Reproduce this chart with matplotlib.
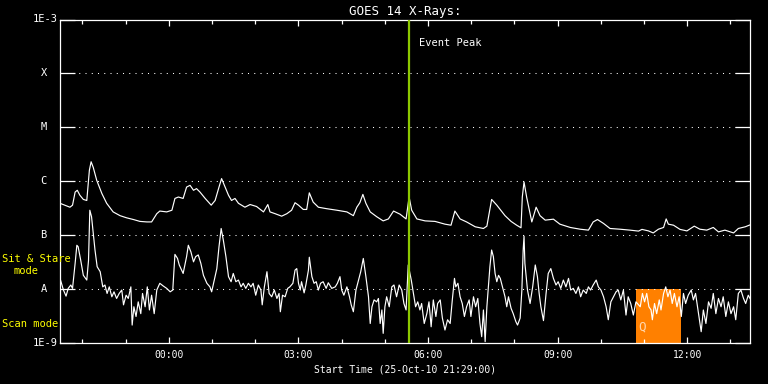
import numpy as np
import pandas as pd
import matplotlib
matplotlib.use("Agg")
import matplotlib.pyplot as plt
import matplotlib.dates as mdates

plt.rcParams['font.family'] = ['DejaVu Sans Mono']

# start of the plot window
start_time = pd.Timestamp('2010-10-25 21:29:00')
span_hours = 15.97

# long channel (1-8 A), hours after start / flux W m^-2
long_h = [0.00, 0.23, 0.29, 0.35, 0.40, 0.46, 0.54, 0.62, 0.68, 0.72,
          0.77, 0.85, 0.97, 1.08, 1.23, 1.39, 1.54, 1.70, 1.85, 2.01,
          2.12, 2.24, 2.31, 2.47, 2.59, 2.66, 2.74, 2.85, 2.93, 3.01,
          3.09, 3.16, 3.24, 3.36, 3.50, 3.59, 3.68, 3.74, 3.82, 3.90,
          3.97, 4.05, 4.13, 4.28, 4.40, 4.55, 4.71, 4.81, 4.86, 4.98,
          5.13, 5.25, 5.36, 5.44, 5.52, 5.63, 5.71, 5.77, 5.86, 5.98,
          6.17, 6.41, 6.64, 6.79, 6.87, 6.94, 7.01, 7.08, 7.18, 7.33,
          7.48, 7.60, 7.72, 7.87, 8.01, 8.08, 8.14, 8.26, 8.45, 8.68,
          8.91, 9.05, 9.14, 9.26, 9.41, 9.61, 9.80, 9.88, 9.99, 10.11,
          10.30, 10.44, 10.57, 10.67, 10.70, 10.74, 10.80, 10.92, 11.02, 11.11,
          11.23, 11.42, 11.57, 11.81, 12.04, 12.23, 12.34, 12.44, 12.58, 12.73,
          12.96, 13.19, 13.39, 13.47, 13.62, 13.73, 13.85, 13.97, 14.03, 14.08,
          14.20, 14.35, 14.51, 14.68, 14.81, 14.97, 15.12, 15.24, 15.39, 15.59,
          15.70, 15.86, 15.97]
long_f = [3.9e-7, 3.3e-7, 3.6e-7, 6.3e-7, 6.8e-7, 5.5e-7, 4.6e-7, 4.4e-7, 1.6e-6, 2.3e-6,
          1.8e-6, 1.04e-6, 5.9e-7, 3.9e-7, 2.7e-7, 2.3e-7, 2.1e-7, 1.95e-7, 1.8e-7, 1.76e-7,
          1.76e-7, 2.5e-7, 2.8e-7, 2.7e-7, 2.9e-7, 4.8e-7, 5.1e-7, 4.8e-7, 7.8e-7, 8.4e-7,
          6.8e-7, 7.3e-7, 6.3e-7, 4.8e-7, 3.6e-7, 4.4e-7, 7.8e-7, 1.12e-6, 7.8e-7, 5.5e-7,
          4.4e-7, 4.8e-7, 3.9e-7, 3.3e-7, 3.7e-7, 3.4e-7, 2.7e-7, 3.7e-7, 2.7e-7, 2.5e-7,
          2.25e-7, 2.5e-7, 2.9e-7, 4.0e-7, 3.6e-7, 3.0e-7, 3.0e-7, 6.1e-7, 4.1e-7, 3.3e-7,
          3.1e-7, 2.9e-7, 2.7e-7, 2.3e-7, 3.3e-7, 4.0e-7, 5.7e-7, 3.9e-7, 2.7e-7, 2.2e-7,
          1.84e-7, 2.0e-7, 2.8e-7, 2.45e-7, 2.0e-7, 5.1e-7, 2.9e-7, 2.0e-7, 1.84e-7, 1.8e-7,
          1.6e-7, 1.53e-7, 2.8e-7, 2.0e-7, 1.76e-7, 1.43e-7, 1.33e-7, 1.47e-7, 4.6e-7, 3.6e-7,
          2.3e-7, 1.8e-7, 1.53e-7, 1.37e-7, 5.1e-7, 9.7e-7, 5.1e-7, 1.76e-7, 3.3e-7, 2.3e-7,
          1.9e-7, 1.98e-7, 1.6e-7, 1.39e-7, 1.29e-7, 1.24e-7, 1.76e-7, 1.95e-7, 1.65e-7, 1.33e-7,
          1.29e-7, 1.24e-7, 1.19e-7, 1.28e-7, 1.2e-7, 1.1e-7, 1.29e-7, 1.39e-7, 2.0e-7, 1.6e-7,
          1.53e-7, 1.28e-7, 1.2e-7, 1.47e-7, 1.29e-7, 1.24e-7, 1.39e-7, 1.15e-7, 1.24e-7, 1.1e-7,
          1.33e-7, 1.43e-7, 1.55e-7]

# short channel (0.5-4 A)
short_h = [0.00, 0.08, 0.14, 0.19, 0.25, 0.29, 0.35, 0.39, 0.42, 0.48,
           0.54, 0.62, 0.66, 0.69, 0.73, 0.77, 0.81, 0.86, 0.93, 0.99,
           1.04, 1.09, 1.14, 1.20, 1.25, 1.31, 1.37, 1.43, 1.47, 1.53,
           1.58, 1.64, 1.67, 1.71, 1.76, 1.81, 1.87, 1.91, 1.97, 2.02,
           2.07, 2.12, 2.18, 2.24, 2.31, 2.39, 2.47, 2.55, 2.61, 2.66,
           2.72, 2.76, 2.85, 2.93, 2.97, 3.03, 3.09, 3.14, 3.20, 3.26,
           3.32, 3.40, 3.47, 3.51, 3.57, 3.63, 3.68, 3.73, 3.78, 3.84,
           3.90, 3.96, 4.01, 4.07, 4.13, 4.19, 4.24, 4.30, 4.36, 4.42,
           4.47, 4.53, 4.59, 4.65, 4.68, 4.73, 4.79, 4.84, 4.90, 4.96,
           5.02, 5.07, 5.10, 5.15, 5.21, 5.27, 5.32, 5.39, 5.44, 5.48,
           5.52, 5.56, 5.59, 5.65, 5.69, 5.75, 5.77, 5.83, 5.88, 5.93,
           5.98, 6.03, 6.09, 6.16, 6.21, 6.29, 6.37, 6.42, 6.48, 6.52,
           6.57, 6.64, 6.70, 6.74, 6.79, 6.85, 6.91, 6.96, 7.02, 7.08,
           7.14, 7.18, 7.22, 7.27, 7.33, 7.37, 7.41, 7.45, 7.48, 7.52,
           7.56, 7.62, 7.68, 7.73, 7.79, 7.85, 7.91, 7.96, 8.01, 8.06,
           8.13, 8.18, 8.23, 8.28, 8.33, 8.37, 8.43, 8.49, 8.54, 8.59,
           8.64, 8.70, 8.74, 8.80, 8.85, 8.91, 8.97, 9.03, 9.08, 9.13,
           9.16, 9.21, 9.26, 9.31, 9.36, 9.41, 9.47, 9.51, 9.57, 9.62,
           9.67, 9.72, 9.76, 9.80, 9.84, 9.88, 9.91, 9.95, 9.99, 10.03,
           10.07, 10.11, 10.15, 10.19, 10.22, 10.26, 10.30, 10.34, 10.38, 10.44,
           10.49, 10.55, 10.59, 10.65, 10.69, 10.72, 10.74, 10.76, 10.82, 10.88,
           10.94, 11.00, 11.05, 11.09, 11.13, 11.19, 11.25, 11.30, 11.36, 11.42,
           11.48, 11.53, 11.59, 11.65, 11.71, 11.77, 11.82, 11.88, 11.94, 12.00,
           12.05, 12.11, 12.18, 12.23, 12.28, 12.34, 12.41, 12.46, 12.52, 12.58,
           12.64, 12.69, 12.75, 12.81, 12.87, 12.92, 12.98, 13.04, 13.10, 13.15,
           13.21, 13.27, 13.33, 13.39, 13.43, 13.48, 13.53, 13.58, 13.63, 13.68,
           13.71, 13.76, 13.81, 13.87, 13.91, 13.97, 14.02, 14.07, 14.12, 14.17,
           14.22, 14.28, 14.33, 14.38, 14.43, 14.48, 14.54, 14.61, 14.66, 14.71,
           14.78, 14.84, 14.89, 14.95, 15.01, 15.07, 15.12, 15.18, 15.24, 15.30,
           15.35, 15.41, 15.47, 15.53, 15.59, 15.64, 15.70, 15.76, 15.82, 15.87,
           15.93, 15.97]
short_f = [1.58e-8, 9.6e-9, 7.4e-9, 1.03e-8, 1.19e-8, 1.03e-8, 3.0e-8, 6.5e-8, 6.1e-8, 3.4e-8,
           1.8e-8, 1.47e-8, 3.4e-8, 2.9e-7, 2.2e-7, 1.07e-7, 5.3e-8, 2.6e-8, 2.1e-8, 1.1e-8,
           1.19e-8, 8.3e-9, 1.1e-8, 7.2e-9, 8.9e-9, 6.7e-9, 8.3e-9, 9.6e-9, 5.1e-9, 7.7e-9,
           6.7e-9, 1.1e-8, 2.15e-9, 4.7e-9, 3.1e-9, 5.8e-9, 3.5e-9, 8.3e-9, 4.7e-9, 1.1e-8,
           4.1e-9, 7.7e-9, 3.5e-9, 9.6e-9, 1.28e-8, 1.14e-8, 1.03e-8, 8.9e-9, 9.6e-9, 4.4e-8,
           3.7e-8, 2.8e-8, 1.95e-8, 4.0e-8, 6.5e-8, 4.9e-8, 3.2e-8, 4.0e-8, 4.3e-8, 3.0e-8,
           1.8e-8, 1.28e-8, 1.1e-8, 8.9e-9, 1.47e-8, 2.4e-8, 6.1e-8, 1.33e-7, 8.1e-8, 4.0e-8,
           1.7e-8, 1.37e-8, 1.95e-8, 1.37e-8, 1.47e-8, 1.1e-8, 1.28e-8, 1.03e-8, 1.28e-8, 1.1e-8,
           1.28e-8, 7.7e-9, 1.19e-8, 9.6e-9, 5.1e-9, 1.1e-8, 2.1e-8, 8.3e-9, 7.2e-9, 9.6e-9,
           6.7e-9, 8.3e-9, 3.8e-9, 7.7e-9, 7.2e-9, 1.03e-8, 1.1e-8, 1.28e-8, 2.25e-8, 2.4e-8,
           1.28e-8, 9.6e-9, 1.37e-8, 8.5e-9, 1.19e-8, 2.25e-8, 3.9e-8, 1.7e-8, 1.28e-8, 1.37e-8,
           9.6e-9, 1.28e-8, 1.37e-8, 1.03e-8, 1.31e-8, 1.03e-8, 1.1e-8, 1.28e-8, 1.7e-8, 9.6e-9,
           7.7e-9, 1.1e-8, 7.2e-9, 5.1e-9, 3.8e-9, 9.6e-9, 1.47e-8, 2.1e-8, 3.7e-8, 1.7e-8,
           7.2e-9, 2.3e-9, 4.7e-9, 6.3e-9, 5.8e-9, 6.7e-9, 2.3e-9, 4.1e-9, 1.51e-9, 4.7e-9,
           7.2e-9, 4.7e-9, 1.1e-8, 1.19e-8, 7.2e-9, 1.19e-8, 9.6e-9, 5.4e-9, 4.1e-9, 2.8e-8,
           1.47e-8, 8.3e-9, 4.7e-9, 5.8e-9, 4.1e-9, 5.4e-9, 2.3e-9, 3.5e-9, 5.8e-9, 2.0e-9,
           6.3e-9, 3.1e-9, 5.4e-9, 6.3e-9, 2.9e-9, 1.74e-9, 2.7e-9, 2.3e-9, 6.3e-9, 1.58e-8,
           1.1e-8, 1.28e-8, 7.2e-9, 5.4e-9, 3.1e-9, 4.7e-9, 6.3e-9, 3.1e-9, 7.2e-9, 4.7e-9,
           6.7e-9, 2.3e-9, 1.31e-9, 4.1e-9, 1.06e-9, 4.7e-9, 9.6e-9, 2.6e-8, 5.3e-8, 4.0e-8,
           1.95e-8, 1.37e-8, 1.8e-8, 1.58e-8, 1.28e-8, 9.6e-9, 7.2e-9, 4.7e-9, 7.2e-9, 4.4e-9,
           3.5e-9, 2.5e-9, 2.15e-9, 2.9e-9, 9.6e-9, 5.3e-8, 9.6e-8, 3.0e-8, 9.6e-9, 5.4e-9,
           1.1e-8, 2.8e-8, 1.7e-8, 8.3e-9, 4.7e-9, 2.6e-9, 8.3e-9, 1.95e-8, 2.4e-8, 1.58e-8,
           1.19e-8, 1.37e-8, 1.03e-8, 1.47e-8, 1.1e-8, 1.58e-8, 9.6e-9, 1.03e-8, 8.3e-9, 1.1e-8,
           7.2e-9, 9.6e-9, 8.3e-9, 1.1e-8, 9.6e-9, 1.19e-8, 1.47e-8, 1.1e-8, 9.6e-9, 7.2e-9,
           4.7e-9, 2.7e-9, 5.8e-9, 7.2e-9, 8.9e-9, 9.6e-9, 6.3e-9, 9.6e-9, 3.3e-9, 7.2e-9,
           5.4e-9, 3.3e-9, 5.8e-9, 5.1e-9, 4.7e-9, 8.3e-9, 5.8e-9, 8.3e-9, 4.7e-9, 4.1e-9,
           2.7e-9, 5.4e-9, 3.5e-9, 6.3e-9, 4.1e-9, 8.3e-9, 1.1e-8, 7.2e-9, 9.6e-9, 5.4e-9,
           8.3e-9, 4.7e-9, 7.2e-9, 3.1e-9, 8.3e-9, 5.4e-9, 7.7e-9, 9.6e-9, 6.3e-9, 8.3e-9,
           3.5e-9, 1.62e-9, 4.1e-9, 2.3e-9, 5.8e-9, 4.4e-9, 8.3e-9, 3.5e-9, 6.7e-9, 4.7e-9,
           7.2e-9, 3.1e-9, 5.8e-9, 3.5e-9, 4.7e-9, 2.7e-9, 8.3e-9, 9.6e-9, 6.7e-9, 5.4e-9,
           7.7e-9, 6.7e-9]

# GOES class levels
class_flux = [1e-9, 1e-8, 1e-7, 1e-6, 1e-5, 1e-4, 1e-3]
class_labels = ['1E-9', 'A', 'B', 'C', 'M', 'X', '1E-3']

event_peak = pd.Timestamp('2010-10-26 05:33:00')
scan_start = pd.Timestamp('2010-10-26 10:49:00')
scan_end = pd.Timestamp('2010-10-26 11:52:00')


def to_time(hours):
    return start_time + pd.to_timedelta(np.array(hours), unit='h')


fig = plt.figure(figsize=(7.68, 3.84), dpi=100, facecolor='black')
ax = fig.add_axes([60 / 768, 41 / 384, 690 / 768, 323.5 / 384], facecolor='black')

ax.set_yscale('log')
ax.set_ylim(1e-9, 1e-3)
ax.set_xlim(start_time, start_time + pd.Timedelta(hours=span_hours))

# scan-mode block
ax.fill_between([scan_start, scan_end], 1e-9, 1e-8, color='#ff8000', lw=0, zorder=1)
ax.text(scan_start + pd.Timedelta(minutes=3), 2.0e-9, 'Q', color='#ffd8b0',
        fontsize=9, ha='left', va='center', zorder=1.5)

for f in class_flux[1:-1]:
    ax.axhline(f, color='white', lw=0.75, linestyle=(0, (1, 5)), zorder=1.2)

ax.plot(to_time(long_h), long_f, color='white', lw=0.85, zorder=2)
ax.plot(to_time(short_h), short_f, color='white', lw=0.85, zorder=2)

ax.axvline(event_peak, color='#8cc800', lw=1.6, zorder=3)
ax.annotate('Event Peak', xy=(event_peak, 1e-3), xytext=(10, -23),
            textcoords='offset pixels', color='white', fontsize=7.5,
            ha='left', va='center')

# axes styling
for s in ax.spines.values():
    s.set_color('white')
    s.set_linewidth(0.9)

ax.set_yticks(class_flux)
ax.set_yticklabels([])
ax.yaxis.set_minor_locator(matplotlib.ticker.NullLocator())
ax.tick_params(axis='y', which='major', direction='in', length=10.5, width=0.9,
               color='white', left=True, right=True)

ax.xaxis.set_major_locator(mdates.HourLocator(byhour=range(0, 24, 3)))
ax.xaxis.set_minor_locator(mdates.HourLocator())
ax.xaxis.set_major_formatter(mdates.DateFormatter('%H:%M'))
ax.tick_params(axis='x', which='major', direction='in', length=4.5, width=0.9,
               color='white', labelcolor='white', labelsize=7, pad=5,
               top=True, bottom=True)
ax.tick_params(axis='x', which='minor', direction='in', length=3, width=0.9,
               color='white', top=True, bottom=True)

ytr = ax.get_yaxis_transform()
for f, lab in zip(class_flux, class_labels):
    if len(lab) == 1:
        ax.text(-0.0236, f, lab, transform=ytr, color='white', fontsize=7.5,
                ha='center', va='center')
    else:
        ax.text(-0.004, f, lab, transform=ytr, color='white', fontsize=7.5,
                ha='right', va='center')

fig.text(2 / 768, 1 - 259 / 384, 'Sit & Stare', color='#ffff00', fontsize=7.5,
         ha='left', va='center')
fig.text(13 / 768, 1 - 271 / 384, 'mode', color='#ffff00', fontsize=7.5,
         ha='left', va='center')
fig.text(2 / 768, 1 - 324 / 384, 'Scan mode', color='#ffff00', fontsize=7.5,
         ha='left', va='center')

ax.set_title('GOES 14 X-Rays:', color='white', fontsize=9, pad=3)
ax.set_xlabel('Start Time (25-Oct-10 21:29:00)', color='white', fontsize=7,
              labelpad=3)

fig.savefig('out.png', dpi=100, facecolor='black')
